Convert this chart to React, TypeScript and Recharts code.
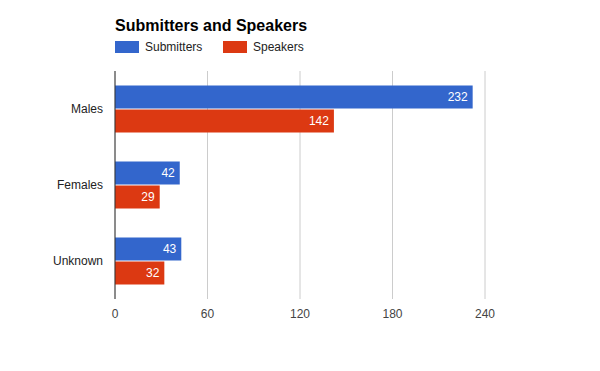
import React from "react";
import { BarChart, Bar, XAxis, YAxis, CartesianGrid, LabelList } from "recharts";

const categories = ["Males", "Females", "Unknown"];
const submitters = [232, 42, 43];
const speakers = [142, 29, 32];
const xTicks = [0, 60, 120, 180, 240];

const data = categories.map((name, i) => ({
  name,
  Submitters: submitters[i],
  Speakers: speakers[i],
}));

const FONT = "'Liberation Sans', Arial, sans-serif";
const BLUE = "#3366CC";
const RED = "#DC3912";

export default function App() {
  return (
    <div
      style={{
        position: "fixed",
        left: 0,
        top: 0,
        width: 600,
        height: 371,
        background: "#fff",
        fontFamily: FONT,
      }}
    >
      <div
        style={{
          position: "absolute",
          left: 115,
          top: 16,
          fontSize: 16,
          fontWeight: "bold",
          color: "#000",
          lineHeight: "20px",
        }}
      >
        Submitters and Speakers
      </div>
      <div style={{ position: "absolute", left: 115, top: 41, height: 12, display: "flex", alignItems: "center", fontSize: 12, color: "#222" }}>
        <div style={{ width: 24, height: 12, background: BLUE }} />
        <span style={{ marginLeft: 6, width: 78 }}>Submitters</span>
        <div style={{ width: 24, height: 12, background: RED }} />
        <span style={{ marginLeft: 6 }}>Speakers</span>
      </div>
      <BarChart
        width={600}
        height={371}
        data={data}
        layout="vertical"
        margin={{ top: 71, right: 115, bottom: 42, left: 0 }}
        barCategoryGap={14.5}
        barGap={1}
        style={{ position: "absolute", left: 0, top: 0 }}
      >
        <CartesianGrid horizontal={false} stroke="#cccccc" strokeWidth={1} />
        <XAxis
          type="number"
          domain={[0, 240]}
          ticks={xTicks}
          axisLine={false}
          tickLine={false}
          tickSize={0}
          tickMargin={10}
          height={30}
          tick={{ fill: "#444", fontSize: 12, fontFamily: FONT }}
        />
        <YAxis
          type="category"
          dataKey="name"
          width={115}
          axisLine={{ stroke: "#333", strokeWidth: 1 }}
          tickLine={false}
          tickSize={0}
          tickMargin={12}
          tick={{ fill: "#222", fontSize: 12, fontFamily: FONT }}
        />
        <Bar dataKey="Submitters" fill={BLUE} isAnimationActive={false}>
          <LabelList dataKey="Submitters" position="insideRight" offset={5} fill="#fff" fontSize={12} fontFamily={FONT} />
        </Bar>
        <Bar dataKey="Speakers" fill={RED} isAnimationActive={false}>
          <LabelList dataKey="Speakers" position="insideRight" offset={5} fill="#fff" fontSize={12} fontFamily={FONT} />
        </Bar>
      </BarChart>
    </div>
  );
}
